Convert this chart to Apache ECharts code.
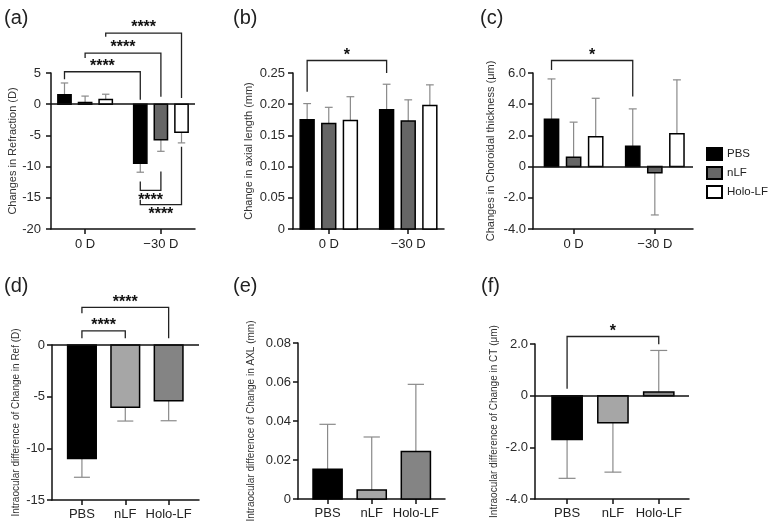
<!DOCTYPE html>
<html>
<head>
<meta charset="utf-8">
<script src="https://cdn.jsdelivr.net/npm/echarts@6/dist/echarts.min.js"></script>
<style>
  html, body { margin: 0; padding: 0; background: #fff; }
  #chart { width: 771px; height: 529px; }
</style>
</head>
<body>
<div id="chart"></div>
<script>
const FONT = '"Liberation Sans", Arial, sans-serif';

// categories
const topGroups = ['0 D', '−30 D'];
const barNames = ['PBS', 'nLF', 'Holo-LF'];
const diffGroups = ['PBS', 'nLF', 'Holo-LF'];

// (a) change in refraction (D): mean and SD per group
const refPBS = [1.5, -9.45], refPBSsd = [1.9, 1.45];
const refNLF = [0.27, -5.7], refNLFsd = [1.03, 1.85];
const refHolo = [0.75, -4.5], refHoloSd = [0.85, 1.7];

// (b) change in axial length (mm)
const axlPBS = [0.175, 0.191], axlPBSsd = [0.026, 0.041];
const axlNLF = [0.169, 0.173], axlNLFsd = [0.026, 0.034];
const axlHolo = [0.174, 0.198], axlHoloSd = [0.038, 0.033];

// (c) change in choroidal thickness (um)
const ctPBS = [3.04, 1.31], ctPBSsd = [2.58, 2.39];
const ctNLF = [0.6, -0.4], ctNLFsd = [2.25, 2.7];
const ctHolo = [1.92, 2.1], ctHoloSd = [2.46, 3.46];

// (d)-(f) intraocular differences
const dRef = [-10.98, -6.03, -5.4], dRefSd = [1.82, 1.33, 1.93];
const dAxl = [0.0152, 0.0046, 0.0243], dAxlSd = [0.0231, 0.0272, 0.0345];
const dCt = [-1.7, -1.05, 0.14], dCtSd = [1.5, 1.91, 1.61];

// significance brackets: [group1, bar1, group2, bar2, yLine, yEnd1, yEnd2]
const refBrackets = [
  [0, 0, 1, 0, 5.2, 4.0, 0.7],
  [0, 1, 1, 1, 8.2, 7.4, 1.2],
  [0, 2, 1, 2, 11.4, 10.8, 1.0],
  [1, 0, 1, 1, -13.8, -12.4, -10.8],
  [1, 0, 1, 2, -16.1, -15.3, -6.8]
];
const refStars = ['****', '****', '****', '****', '****'];
const axlBrackets = [[0, 0, 1, 0, 0.270, 0.220, 0.250]];
const axlStars = ['*'];
const ctBrackets = [[0, 0, 1, 0, 6.8, 6.2, 4.5]];
const ctStars = ['*'];
const dRefBrackets = [[0, 1, 1, 1, 1.36, 0.65, 0.65], [0, 1, 2, 1, 3.65, 3.07, 0.65]];
const dRefStars = ['****', '****'];
const dCtBrackets = [[0, 1, 2, 1, 2.29, 0.27, 1.99]];
const dCtStars = ['*'];

// styles
const topFills = ['#000000', '#666666', '#ffffff'];
const diffFills = ['#000000', '#a6a6a6', '#848484'];
const TOP_BAR_W = 0.175, TOP_STEP = 0.272, DIFF_BAR_W = 0.66;

const grids = [
  { left: 51, top: 73, width: 144, height: 156 },
  { left: 293, top: 73, width: 151, height: 156 },
  { left: 533, top: 73, width: 160, height: 156 },
  { left: 52, top: 345, width: 147, height: 155 },
  { left: 298, top: 343, width: 147, height: 156 },
  { left: 535, top: 344, width: 154, height: 155 }
];

const fmtInt = v => String(v);
const fmt1 = v => (v === 0 ? '0' : v.toFixed(1));
const fmt2 = v => (v === 0 ? '0' : v.toFixed(2));

function xAxisCfg(gi, min, max, cats, fontSize, margin) {
  const ticks = cats.map((c, i) => i);
  return {
    type: 'value', gridIndex: gi, min, max,
    splitLine: { show: false },
    axisLine: { onZero: false, lineStyle: { color: '#111', width: 1.5 } },
    axisTick: { customValues: ticks, length: 5, lineStyle: { color: '#111', width: 1.5 } },
    axisLabel: { customValues: ticks, formatter: v => cats[Math.round(v)], fontSize, color: '#222', margin, fontFamily: FONT }
  };
}

function yAxisCfg(gi, min, max, interval, fmt, name, nameGap, nameSize, margin) {
  return {
    type: 'value', gridIndex: gi, min, max, interval,
    splitLine: { show: false },
    axisLine: { show: true, onZero: false, lineStyle: { color: '#111', width: 1.5 } },
    axisTick: { show: true, length: 5, lineStyle: { color: '#111', width: 1.5 } },
    axisLabel: { formatter: fmt, fontSize: 13, color: '#2a2a2a', margin, fontFamily: FONT },
    name, nameLocation: 'middle', nameGap,
    nameTextStyle: { fontSize: nameSize, color: '#333', fontFamily: FONT }
  };
}

// bar + one-sided error bar, drawn through the axis scales
function barSeries(gi, name, means, sds, fill, offset, barW, withZero) {
  const s = {
    type: 'custom', name, xAxisIndex: gi, yAxisIndex: gi, clip: false,
    itemStyle: { color: fill, borderColor: '#000', borderWidth: 1.5 },
    data: means.map((m, i) => [i, m, sds[i]]),
    renderItem: (params, api) => {
      const x = api.value(0) + offset, v = api.value(1), sd = api.value(2);
      const w = api.size([barW, 0])[0];
      const p0 = api.coord([x, 0]);
      const p1 = api.coord([x, v]);
      const e = api.coord([x, v + (v < 0 ? -sd : sd)]);
      const cap = w * 0.28;
      return {
        type: 'group',
        children: [
          { type: 'line', shape: { x1: p1[0], y1: p1[1], x2: e[0], y2: e[1] }, style: { stroke: '#8a8a8a', lineWidth: 1.2 } },
          { type: 'line', shape: { x1: e[0] - cap, y1: e[1], x2: e[0] + cap, y2: e[1] }, style: { stroke: '#8a8a8a', lineWidth: 1.2 } },
          {
            type: 'rect',
            shape: { x: p0[0] - w / 2, y: Math.min(p0[1], p1[1]), width: w, height: Math.abs(p1[1] - p0[1]) },
            style: { fill: Array.isArray(fill) ? fill[params.dataIndex] : fill, stroke: '#000', lineWidth: 1.5 }
          }
        ]
      };
    }
  };
  if (Array.isArray(fill)) s.itemStyle.color = fill[0];
  if (withZero) {
    s.markLine = {
      silent: true, symbol: 'none', label: { show: false },
      lineStyle: { color: '#111', width: 1.5, type: 'solid' },
      data: [{ yAxis: 0 }]
    };
  }
  return s;
}

function bracketSeries(gi, rows, stars, step) {
  return {
    type: 'custom', xAxisIndex: gi, yAxisIndex: gi, clip: false, silent: true,
    data: rows,
    renderItem: (params, api) => {
      const r = rows[params.dataIndex];
      const xa = r[0] + (r[1] - 1) * step, xb = r[2] + (r[3] - 1) * step;
      const a1 = api.coord([xa, r[5]]), a2 = api.coord([xa, r[4]]);
      const b2 = api.coord([xb, r[4]]), b1 = api.coord([xb, r[6]]);
      const below = r[4] < Math.min(r[5], r[6]);
      return {
        type: 'group',
        children: [
          { type: 'polyline', shape: { points: [a1, a2, b2, b1] }, style: { stroke: '#222', lineWidth: 1.3, fill: null } },
          {
            type: 'text',
            style: {
              text: stars[params.dataIndex], x: (a2[0] + b2[0]) / 2, y: below ? a2[1] + 10 : a2[1] - 5,
              align: 'center', verticalAlign: 'middle',
              font: 'bold 16px ' + FONT, fill: '#111'
            }
          }
        ]
      };
    }
  };
}

function topPanel(gi, sets, brackets, stars) {
  const out = sets.map((st, k) => barSeries(gi, barNames[k], st[0], st[1], topFills[k], (k - 1) * TOP_STEP, TOP_BAR_W, k === 0 && st[2]));
  out.push(bracketSeries(gi, brackets, stars, TOP_STEP));
  return out;
}

const series = [].concat(
  topPanel(0, [[refPBS, refPBSsd, true], [refNLF, refNLFsd], [refHolo, refHoloSd]], refBrackets, refStars),
  topPanel(1, [[axlPBS, axlPBSsd, false], [axlNLF, axlNLFsd], [axlHolo, axlHoloSd]], axlBrackets, axlStars),
  topPanel(2, [[ctPBS, ctPBSsd, true], [ctNLF, ctNLFsd], [ctHolo, ctHoloSd]], ctBrackets, ctStars),
  [barSeries(3, 'dRef', dRef, dRefSd, diffFills, 0, DIFF_BAR_W, true), bracketSeries(3, dRefBrackets, dRefStars, 0)],
  [barSeries(4, 'dAxl', dAxl, dAxlSd, diffFills, 0, DIFF_BAR_W, false)],
  [barSeries(5, 'dCt', dCt, dCtSd, diffFills, 0, DIFF_BAR_W, true), bracketSeries(5, dCtBrackets, dCtStars, 0)]
);

const panelTitles = [['(a)', 4, 8], ['(b)', 233, 8], ['(c)', 480, 8], ['(d)', 4, 276], ['(e)', 233, 276], ['(f)', 481, 276]];

const chart = echarts.init(document.getElementById('chart'), null, { renderer: 'canvas' });
chart.setOption({
  animation: false,
  backgroundColor: '#fff',
  textStyle: { fontFamily: FONT },
  title: panelTitles.map(t => ({
    text: t[0], left: t[1], top: t[2], padding: 0,
    textStyle: { fontSize: 20, fontWeight: 'normal', color: '#222', fontFamily: FONT }
  })),
  legend: {
    data: barNames, orient: 'vertical', left: 706, top: 147, padding: 0,
    itemWidth: 15, itemHeight: 12, itemGap: 5, icon: 'rect', selectedMode: false,
    textStyle: { fontSize: 11.5, color: '#222', fontFamily: FONT }
  },
  grid: grids,
  xAxis: [
    xAxisCfg(0, -0.45, 1.45, topGroups, 13, 9),
    xAxisCfg(1, -0.45, 1.45, topGroups, 13, 9),
    xAxisCfg(2, -0.5, 1.47, topGroups, 13, 9),
    xAxisCfg(3, -0.69, 2.70, diffGroups, 13, 8),
    xAxisCfg(4, -0.67, 2.66, diffGroups, 13, 8),
    xAxisCfg(5, -0.70, 2.66, diffGroups, 13, 8)
  ],
  yAxis: [
    yAxisCfg(0, -20, 5, 5, fmtInt, 'Changes in Refraction (D)', 31, 11, 10),
    yAxisCfg(1, 0, 0.25, 0.05, fmt2, 'Change in axial length (mm)', 39, 11, 8),
    yAxisCfg(2, -4, 6, 2, fmt1, 'Changes in Choroidal thickness (μm)', 37, 11, 7),
    yAxisCfg(3, -15, 0, 5, fmtInt, 'Intraocular difference of Change in Ref (D)', 31, 10, 7),
    yAxisCfg(4, 0, 0.08, 0.02, fmt2, 'Intraocular difference of Change in AXL (mm)', 42, 10, 7),
    yAxisCfg(5, -4, 2, 2, fmt1, 'Intraocular difference of Change in CT (μm)', 36, 10, 7)
  ],
  series
});
</script>
</body>
</html>
